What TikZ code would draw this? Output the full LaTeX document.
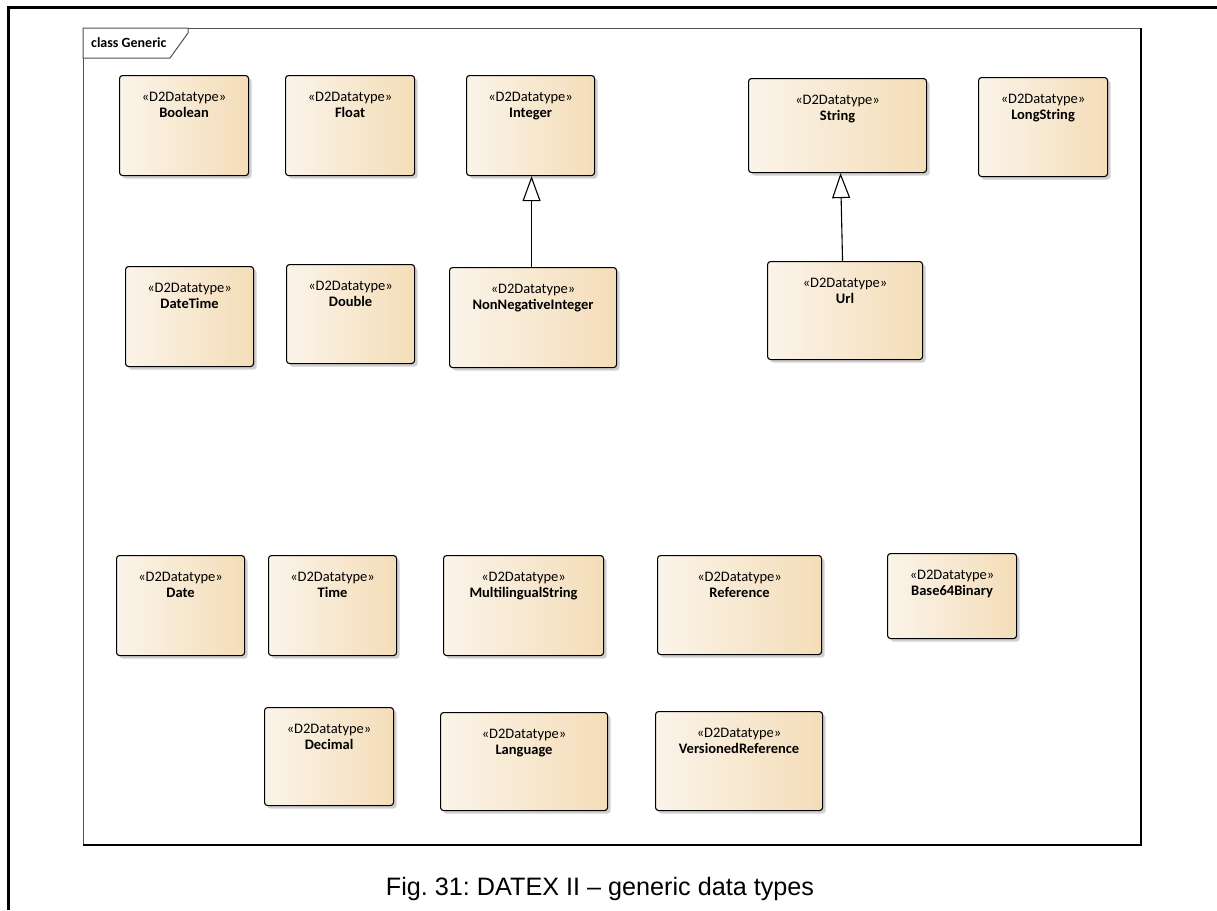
\documentclass[tikz,border=0pt]{standalone}
\usepackage{fontspec}
\setmainfont{Carlito}
\newfontfamily\capfont{Liberation Sans}
\usetikzlibrary{arrows.meta,shadows}
\definecolor{boxl}{HTML}{FBF4EA}
\definecolor{boxr}{HTML}{F4DDB8}
\definecolor{frameg}{HTML}{505050}
\frenchspacing
\tikzset{
  dtbox/.style={draw=black, line width=1.1pt, rounded corners=3pt, left color=boxl, right color=boxr,
    drop shadow={shadow xshift=3pt, shadow yshift=-3pt, fill=black!30, opacity=0.6}, inner sep=0pt},
  dtlabel/.style={inner sep=0pt, align=center, font=\fontsize{14.5}{16}\selectfont},
  gen/.style={line width=1.1pt, -{Triangle[open, length=25pt, width=18pt, fill=white, line width=1.1pt]}},
}
\newcommand\dtbox[6]{%
  \node[dtbox, anchor=north west, minimum width={(#4-#2)*1pt}, minimum height={(#5-#3)*1pt}] (#1) at (#2,#3) {};
  \node[dtlabel, anchor=north] (#1-t) at ([yshift=-16.5pt]#1.north) {«D2Datatype»\\\textbf{#6}};
}
\begin{document}
\begin{tikzpicture}[x=1pt,y=-1pt]
\useasboundingbox (0,0) rectangle (1217,910);
\fill[white] (0,0) rectangle (1217,910);
% outer frame (top and left)
\draw[line width=3pt] (8.5,7.5) -- (1217,7.5);
\draw[line width=3pt] (8.5,6) -- (8.5,910);
% inner frame
\draw[frameg, line width=1pt] (83,28) rectangle (1141,845);
\draw[black, line width=1.3pt] (1141,28) -- (1141,845) -- (83,845);
\draw[frameg, line width=1pt, fill=white] (83,28) -- (188,28) -- (188,33) -- (170,58) -- (83,58) -- cycle;
\node[anchor=west, inner sep=0pt, font=\fontsize{14}{15}\selectfont\bfseries] (title) at (91,43) {class Generic};
% boxes
\dtbox{bool}{119}{75}{248}{175}{Boolean}
\dtbox{float}{285}{75}{414}{175}{Float}
\dtbox{int}{466}{75}{594}{175}{Integer}
\dtbox{str}{748}{78}{926}{172}{String}
\dtbox{long}{978}{77}{1107}{176}{LongString}
\dtbox{dt}{125}{266}{253}{366}{DateTime}
\dtbox{dbl}{286}{264}{414}{363}{Double}
\dtbox{nni}{449}{267}{616}{367}{NonNegativeInteger}
\dtbox{url}{767}{261}{922}{359}{Url}
\dtbox{date}{116}{555}{244}{655}{Date}
\dtbox{time}{268}{555}{396}{655}{Time}
\dtbox{mls}{443}{555}{603}{655}{MultilingualString}
\dtbox{ref}{657}{555}{821}{654}{Reference}
\dtbox{b64}{887}{553}{1016}{638}{Base64Binary}
\dtbox{dec}{264}{707}{393}{805}{Decimal}
\dtbox{lang}{440}{712}{607}{810}{Language}
\dtbox{vref}{655}{711}{822}{810}{VersionedReference}
% generalizations
\draw[gen] ([xshift=-1.5pt]nni.north) -- ([xshift=1pt]int.south);
\draw[gen] ([xshift=-2.5pt]url.north) -- ([xshift=3pt]str.south);
% caption
\node[anchor=base, inner sep=0pt, font=\capfont\fontsize{25.2}{28}\selectfont] (cap) at (600,895) {Fig. 31: DATEX II – generic data types};
\end{tikzpicture}
\end{document}
